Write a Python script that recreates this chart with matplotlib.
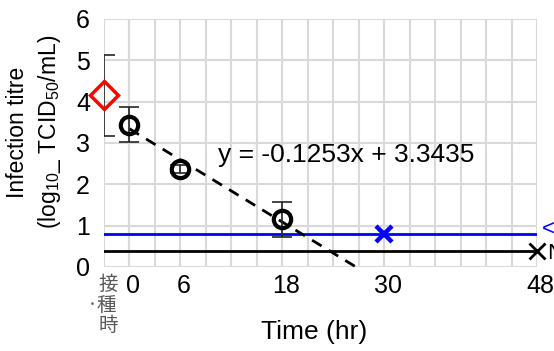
import numpy as np
import matplotlib
matplotlib.use("Agg")
import matplotlib.pyplot as plt
from matplotlib.transforms import blended_transform_factory

plt.rcParams['font.family'] = ['Liberation Sans', 'DejaVu Sans']
plt.rcParams['mathtext.fontset'] = 'custom'
plt.rcParams['mathtext.rm'] = 'Liberation Sans'
plt.rcParams['mathtext.it'] = 'Liberation Sans:italic'
plt.rcParams['mathtext.default'] = 'regular'

# ---- data ----
inoc_x = [-3]
inoc_y = [4.15]
inoc_err = [0.97]

time_x = [0, 6, 18]
titre_y = [3.44, 2.37, 1.15]
titre_err = [0.42, 0.1, 0.43]

lod_y = 0.80          # blue line (< detection limit)
nd_y = 0.38           # black line (ND)
lod_point_x = [30]
nd_point_x = [48]

slope = -0.1253
intercept = 3.3435
fit_x = [0, -intercept / slope]

tick_pos = [0, 6, 18, 30, 48]
tick_lab = ['0', '6', '18', '30', '48']
inoc_label = '接\n·種\n時'
eq_text = 'y = -0.1253x + 3.3435'

# ---- figure ----
fig = plt.figure(figsize=(5.54, 3.51), dpi=100)
ax = fig.add_axes([104/554, 1 - 267/351, (537 - 104)/554, (267 - 19)/351])
ax.set_xlim(-3, 48)
ax.set_ylim(0, 6)

# grid
ax.set_xticks(np.arange(-3, 49, 3))
ax.set_xticklabels([])
ax.set_yticks(np.arange(0, 7, 1))
ax.grid(True, color='#d9d9d9', lw=1.5, zorder=0)
ax.axvline(0, color='#bfbfbf', lw=1.5, zorder=0.5)
for s in ax.spines.values():
    s.set_visible(False)
ax.tick_params(length=0, labelsize=18, pad=10)
ax.set_yticklabels([str(v) for v in range(7)])

# x tick labels
trans = blended_transform_factory(ax.transData, ax.transAxes)
for p, l in zip(tick_pos, tick_lab):
    ax.text(p + 0.4, -0.03, l, transform=trans, ha='center', va='top', fontsize=18)
ax.text(-1.4, -0.03, inoc_label, transform=trans, ha='right', va='top',
        fontsize=14, color='#595959', multialignment='right', linespacing=0.95,
        family=['Noto Sans CJK JP', 'DejaVu Sans'])

# reference lines
ax.axhline(lod_y, color='#0000ff', lw=2, zorder=2)
ax.axhline(nd_y, color='black', lw=2, zorder=2)

# regression line
ax.plot(fit_x, [slope * x + intercept for x in fit_x], ls=(0, (4, 3)),
        color='black', lw=2, zorder=3, clip_on=False)

# inoculum
ax.errorbar(inoc_x, inoc_y, yerr=inoc_err, fmt='none', ecolor='#262626',
            elinewidth=1.2, capsize=8, capthick=1.2, zorder=4)
ax.plot(inoc_x, inoc_y, ls='none', marker='D', ms=14, mfc='none', mec='#ff0000',
        mew=2.5, zorder=5, clip_on=False)

# time points
ax.errorbar(time_x, titre_y, yerr=titre_err, fmt='none', ecolor='#262626',
            elinewidth=1.2, capsize=7, capthick=1.2, zorder=4)
ax.plot(time_x, titre_y, ls='none', marker='o', ms=12.5, mfc='none', mec='black',
        mew=3, zorder=5)

# below detection markers
ax.plot(lod_point_x, [lod_y], ls='none', marker='x', ms=12, mec='#0000ff', mew=3.2, zorder=6)
ax.plot(nd_point_x, [nd_y], ls='none', marker='x', ms=12, mec='black', mew=2, zorder=6,
        clip_on=False)

ax.text(48.6, lod_y + 0.12, '<', color='#0000ff', fontsize=16, ha='left', va='center',
        clip_on=False)
ax.text(49.2, nd_y - 0.05, 'N', color='black', fontsize=16, ha='left', va='center',
        clip_on=False)

# equation
ax.text(10.4, 2.72, eq_text, fontsize=19, ha='left', va='center', zorder=7)

# labels
fig.text(35/554, 1 - 132/351, 'Infection titre\n(log$_{10}$_ TCID$_{50}$/mL)',
         rotation=90, ha='center', va='center', fontsize=16.5, linespacing=1.35)
fig.text(314/554, 1 - 332/351, 'Time (hr)', ha='center', va='center', fontsize=19)

fig.savefig('out.png', dpi=100)
